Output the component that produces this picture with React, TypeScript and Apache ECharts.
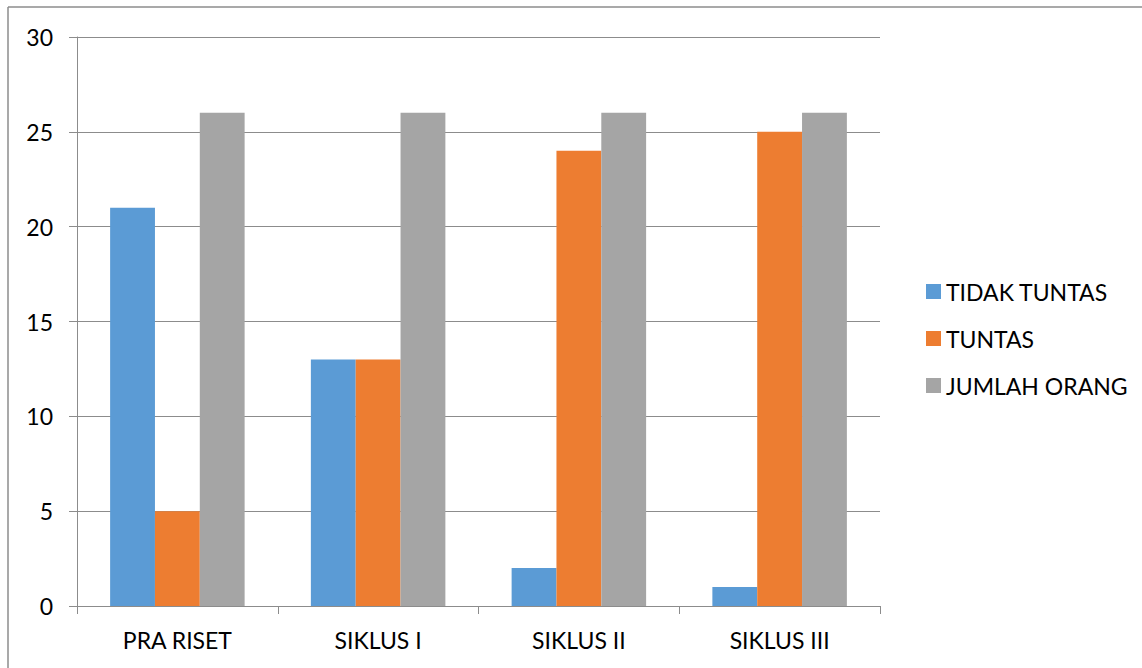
import React, { useEffect, useRef } from "react";
import * as echarts from "echarts";

const categories = ["PRA RISET", "SIKLUS I", "SIKLUS II", "SIKLUS III"];
const tidakTuntas = [21, 13, 2, 1];
const tuntas = [5, 13, 24, 25];
const jumlahOrang = [26, 26, 26, 26];
const seriesNames = ["TIDAK TUNTAS", "TUNTAS", "JUMLAH ORANG"];
const colors = ["#5b9bd5", "#ed7d31", "#a5a5a5"];

const FONT = "Lato, 'Open Sans', sans-serif";

export default function App() {
  const ref = useRef<HTMLDivElement>(null);

  useEffect(() => {
    if (!ref.current) return;
    const chart = echarts.init(ref.current, undefined, { renderer: "svg" });
    const values = [tidakTuntas, tuntas, jumlahOrang];
    chart.setOption({
      animation: false,
      grid: { left: 77, right: 262, top: 37, bottom: 62 },
      legend: {
        orient: "vertical",
        left: 921,
        top: 275,
        itemWidth: 15,
        itemHeight: 15,
        itemGap: 24,
        icon: "rect",
        textStyle: { fontFamily: FONT, fontSize: 23, color: "#000", lineHeight: 23 },
        data: seriesNames,
      },
      xAxis: {
        type: "category",
        data: categories,
        axisLine: { lineStyle: { color: "#8c8c8c", width: 1 } },
        axisTick: { show: true, length: 8, lineStyle: { color: "#8c8c8c" } },
        axisLabel: { margin: 22, fontFamily: FONT, fontSize: 23, color: "#000" },
      },
      yAxis: {
        type: "value",
        min: 0,
        max: 30,
        interval: 5,
        axisLine: { show: true, lineStyle: { color: "#8c8c8c", width: 1 } },
        axisTick: { show: true, length: 8, lineStyle: { color: "#8c8c8c" } },
        axisLabel: { margin: 24, fontFamily: FONT, fontSize: 23, color: "#000" },
        splitLine: { lineStyle: { color: "#8c8c8c", width: 1 } },
      },
      series: seriesNames.map((name, i) => ({
        name,
        type: "bar",
        data: values[i],
        barGap: "0%",
        barCategoryGap: "33%",
        itemStyle: { color: colors[i] },
      })),
      graphic: [
        {
          type: "line",
          shape: { x1: 8, y1: 7, x2: 1142, y2: 7 },
          style: { stroke: "#8c8c8c", lineWidth: 1.5 },
        },
        {
          type: "line",
          shape: { x1: 8, y1: 7, x2: 8, y2: 668 },
          style: { stroke: "#8c8c8c", lineWidth: 1.5 },
        },
      ],
    });
    return () => chart.dispose();
  }, []);

  return <div ref={ref} style={{ width: 1142, height: 668, position: "absolute", left: 0, top: 0 }} />;
}
